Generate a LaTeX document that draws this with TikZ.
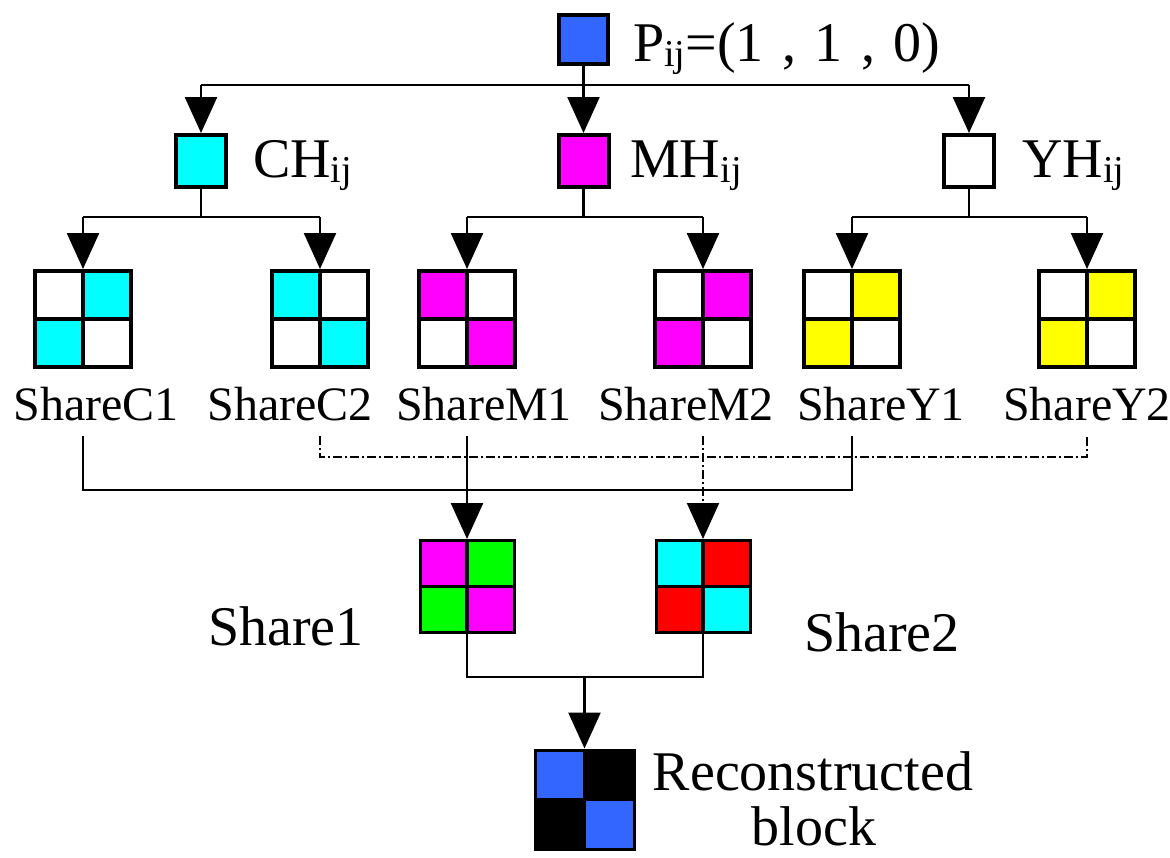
\documentclass[tikz,border=0pt]{standalone}
\usepackage{fontspec}
\setmainfont{Liberation Serif}
\usetikzlibrary{arrows.meta}
\definecolor{ccyan}{RGB}{0,255,255}
\definecolor{cmag}{RGB}{255,0,255}
\definecolor{cyel}{RGB}{255,255,0}
\definecolor{cgreen}{RGB}{0,255,0}
\definecolor{cred}{RGB}{255,0,0}
\definecolor{cblue}{RGB}{51,102,255}
\newcommand{\sbij}{\raisebox{-5pt}{\fontsize{38}{38}\selectfont ij}}
\tikzset{
  big/.style={font=\fontsize{56}{58}\selectfont, inner sep=0pt},
  small/.style={font=\fontsize{48}{50}\selectfont, inner sep=0pt},
  sq/.style={draw, line width=4pt, minimum width=50pt, minimum height=52pt, inner sep=0pt},
  quad/.style n args={4}{draw, line width=4pt, minimum width=96pt, minimum height=96pt, inner sep=0pt,
    path picture={
      \fill[#1] (path picture bounding box.north west) rectangle (path picture bounding box.center);
      \fill[#2] (path picture bounding box.north east) rectangle (path picture bounding box.center);
      \fill[#3] (path picture bounding box.south west) rectangle (path picture bounding box.center);
      \fill[#4] (path picture bounding box.south east) rectangle (path picture bounding box.center);
      \draw[line width=3.5pt] (path picture bounding box.north) -- (path picture bounding box.south);
      \draw[line width=3.5pt] (path picture bounding box.west) -- (path picture bounding box.east);
    }},
  ln/.style={line width=2.5pt},
  arr/.style={line width=2.5pt, -{Triangle[width=32pt,length=36pt]}},
  dd/.style={line width=2pt, dash pattern=on 9pt off 3pt on 2pt off 3pt}
}
\begin{document}
\begin{tikzpicture}[x=1pt,y=-1pt]
\useasboundingbox (0,0) rectangle (1170,857);
% top
\node[sq, fill=cblue, minimum width=49pt, minimum height=49pt] (P) at (583.5,39.5) {};
\node[big, anchor=base west] (Ptxt) at (633,61) {P\sbij=(1\hspace{19pt},\hspace{18pt}1\hspace{19pt},\hspace{18pt}0)};
% second row
\node[sq, fill=ccyan] (CH) at (201,161) {};
\node[sq, fill=cmag] (MH) at (583.5,161) {};
\node[sq, fill=white] (YH) at (969,161) {};
\node[big, anchor=base west] (CHt) at (253,177) {CH\sbij};
\node[big, anchor=base west] (MHt) at (630,177) {MH\sbij};
\node[big, anchor=base west] (YHt) at (1022,177) {YH\sbij};
% third row blocks
\node[quad={white}{ccyan}{ccyan}{white}] (C1) at (83,319) {};
\node[quad={ccyan}{white}{white}{ccyan}] (C2) at (320,319) {};
\node[quad={cmag}{white}{white}{cmag}] (M1) at (467,319) {};
\node[quad={white}{cmag}{cmag}{white}] (M2) at (703,319) {};
\node[quad={white}{cyel}{cyel}{white}] (Y1) at (852,319) {};
\node[quad={white}{cyel}{cyel}{white}] (Y2) at (1087,319) {};
\node[small, anchor=base] (C1t) at (96,420) {ShareC1};
\node[small, anchor=base] (C2t) at (290,420) {ShareC2};
\node[small, anchor=base] (M1t) at (484,420) {ShareM1};
\node[small, anchor=base] (M2t) at (686,420) {ShareM2};
\node[small, anchor=base] (Y1t) at (881,420) {ShareY1};
\node[small, anchor=base] (Y2t) at (1087,420) {ShareY2};
% shares
\node[quad={cmag}{cgreen}{cgreen}{cmag}, line width=3pt, minimum width=94pt, minimum height=92pt] (S1) at (467,586.5) {};
\node[quad={ccyan}{cred}{cred}{ccyan}, line width=3pt, minimum width=94pt, minimum height=92pt] (S2) at (703,586.5) {};
\node[big, anchor=base west] (S1t) at (208,645) {Share1};
\node[big, anchor=base west] (S2t) at (804,651) {Share2};
% reconstructed
\node[quad={cblue}{black}{black}{cblue}, line width=3pt, minimum width=99pt, minimum height=99pt] (R) at (584.5,799.5) {};
\node[big, anchor=base] (Rt1) at (813,790) {Reconstructed};
\node[big, anchor=base] (Rt2) at (814,845) {block};
% coordinates
\coordinate (Pbus) at (583.5,85);
\coordinate (yb2) at (0,217);
\coordinate (ytop) at (0,436);
\coordinate (ydd) at (0,457);
\coordinate (ysb) at (0,490);
\coordinate (yb4) at (0,677);
% level 1
\draw[ln] (P.south) -- (Pbus);
\draw[ln] (CH.north |- Pbus) -- (YH.north |- Pbus);
\draw[arr] (CH.north |- Pbus) -- (CH.north);
\draw[arr] (Pbus) -- (MH.north);
\draw[arr] (YH.north |- Pbus) -- (YH.north);
% level 2
\draw[ln] (CH.south) -- (CH.south |- yb2);
\draw[ln] (C1.north |- yb2) -- (C2.north |- yb2);
\draw[arr] (C1.north |- yb2) -- (C1.north);
\draw[arr] (C2.north |- yb2) -- (C2.north);
\draw[ln] (MH.south) -- (MH.south |- yb2);
\draw[ln] (M1.north |- yb2) -- (M2.north |- yb2);
\draw[arr] (M1.north |- yb2) -- (M1.north);
\draw[arr] (M2.north |- yb2) -- (M2.north);
\draw[ln] (YH.south) -- (YH.south |- yb2);
\draw[ln] (Y1.north |- yb2) -- (Y2.north |- yb2);
\draw[arr] (Y1.north |- yb2) -- (Y1.north);
\draw[arr] (Y2.north |- yb2) -- (Y2.north);
% level 3
\draw[ln] (C1 |- ytop) -- (C1 |- ysb) -- (Y1 |- ysb) -- (Y1 |- ytop);
\draw[arr] (M1 |- ytop) -- (S1.north);
\draw[dd] (C2 |- ytop) -- (C2 |- ydd) -- (Y2 |- ydd) -- (Y2 |- ytop);
\draw[dd, -{Triangle[width=32pt,length=36pt]}] (M2 |- ytop) -- (S2.north);
% level 4
\draw[ln] (S1.south) -- (S1.south |- yb4) -- (S2.south |- yb4) -- (S2.south);
\draw[arr] (R.north |- yb4) -- (R.north);
\end{tikzpicture}
\end{document}
